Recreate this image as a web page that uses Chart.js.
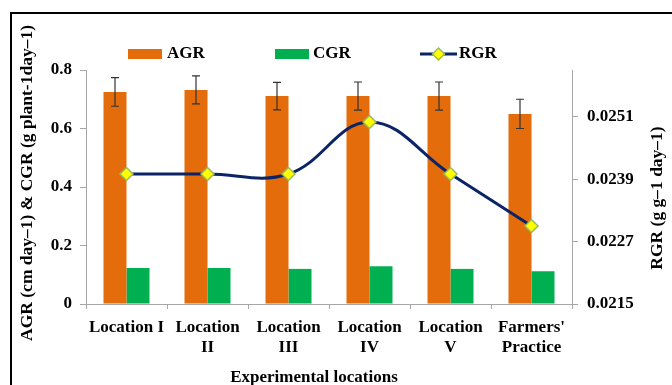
<!DOCTYPE html>
<html>
<head>
<meta charset="utf-8">
<script src="https://cdn.jsdelivr.net/npm/chart.js@4.4.1/dist/chart.umd.min.js"></script>
<style>
  html, body { margin: 0; padding: 0; background: #fff; }
  #wrap { width: 672px; height: 385px; position: relative; }
</style>
</head>
<body>
<div id="wrap"><canvas id="growth-chart"></canvas></div>
<script>
const locations = ["Location I", ["Location", "II"], ["Location", "III"], ["Location", "IV"], ["Location", "V"], ["Farmers'", "Practice"]];
const agr = [0.725, 0.732, 0.711, 0.711, 0.711, 0.650];
const agrErr = [0.049, 0.048, 0.047, 0.048, 0.048, 0.050];
const cgr = [0.123, 0.123, 0.120, 0.129, 0.120, 0.112];
const rgr = [0.0240, 0.0240, 0.0240, 0.0250, 0.0240, 0.0230];
const leftTicks = [0, 0.2, 0.4, 0.6, 0.8];
const rightTicks = [0.0215, 0.0227, 0.0239, 0.0251];

const FONT = "'Liberation Serif', 'Times New Roman', serif";
const ORANGE = "#E46C0A";
const GREEN = "#00B050";
const NAVY = "#0B2466";
const AXIS = "#A6A6A6";

// error bars on the AGR columns
const errorBars = {
    id: "errorBars",
    afterDatasetsDraw(chart) {
        const ctx = chart.ctx;
        const meta = chart.getDatasetMeta(0);
        const y = chart.scales.y;
        ctx.save();
        ctx.strokeStyle = "#333";
        ctx.lineWidth = 1.2;
        meta.data.forEach((bar, i) => {
            const top = y.getPixelForValue(agr[i] + agrErr[i]);
            const bot = y.getPixelForValue(agr[i] - agrErr[i]);
            ctx.beginPath();
            ctx.moveTo(bar.x, top);
            ctx.lineTo(bar.x, bot);
            ctx.moveTo(bar.x - 4, top);
            ctx.lineTo(bar.x + 4, top);
            ctx.moveTo(bar.x - 4, bot);
            ctx.lineTo(bar.x + 4, bot);
            ctx.stroke();
        });
        ctx.restore();
    }
};

// frame, legend and axis titles
const decorations = {
    id: "decorations",
    afterDraw(chart) {
        const ctx = chart.ctx;
        const area = chart.chartArea;
        ctx.save();
        ctx.fillStyle = "#000";
        ctx.fillRect(10, 12, 2, 380);
        ctx.fillRect(10, 12, 670, 2);

        ctx.font = "bold 17px " + FONT;
        ctx.textBaseline = "middle";
        ctx.textAlign = "left";
        // legend
        ctx.fillStyle = ORANGE;
        ctx.fillRect(128, 49, 34, 10);
        ctx.fillStyle = "#000";
        ctx.fillText("AGR", 167, 54);
        ctx.fillStyle = GREEN;
        ctx.fillRect(275, 49, 34, 10);
        ctx.fillStyle = "#000";
        ctx.fillText("CGR", 313, 54);
        ctx.strokeStyle = NAVY;
        ctx.lineWidth = 3;
        ctx.beginPath();
        ctx.moveTo(420, 54);
        ctx.lineTo(457, 54);
        ctx.stroke();
        ctx.beginPath();
        ctx.moveTo(438.5, 48);
        ctx.lineTo(444.5, 54);
        ctx.lineTo(438.5, 60);
        ctx.lineTo(432.5, 54);
        ctx.closePath();
        ctx.fillStyle = "#FFFF00";
        ctx.fill();
        ctx.strokeStyle = "#9BBB59";
        ctx.lineWidth = 1.5;
        ctx.stroke();
        ctx.fillStyle = "#000";
        ctx.fillText("RGR", 459, 54);

        // axis titles
        ctx.textAlign = "center";
        ctx.fillText("Experimental locations", 314, 378);
        ctx.font = "bold 17.5px " + FONT;
        ctx.save();
        ctx.translate(27, (area.top + area.bottom) / 2 - 4);
        ctx.rotate(-Math.PI / 2);
        ctx.fillText("AGR (cm day\u20131) & CGR (g plant-1day\u20131)", 0, 0);
        ctx.restore();
        ctx.save();
        ctx.translate(657, 198);
        ctx.rotate(-Math.PI / 2);
        ctx.fillText("RGR (g g\u20131 day\u20131)", 0, 0);
        ctx.restore();
        ctx.restore();
    }
};

document.addEventListener("DOMContentLoaded", () => {
    const canvas = document.getElementById("growth-chart");
    if (!canvas) {
        console.error("Chart canvas not found!");
        return;
    }
    const tickFont = { family: FONT, size: 17, weight: "bold" };
    new Chart(canvas.getContext("2d"), {
        type: "bar",
        data: {
            labels: locations,
            datasets: [
                { label: "AGR", data: agr, backgroundColor: ORANGE, yAxisID: "y", order: 1 },
                { label: "CGR", data: cgr, backgroundColor: GREEN, yAxisID: "y", order: 1 },
                {
                    type: "line", label: "RGR", data: rgr, yAxisID: "y1", order: 0,
                    borderColor: NAVY, borderWidth: 3, tension: 0.4,
                    pointStyle: "rectRot", pointRadius: 6.5,
                    pointBackgroundColor: "#FFFF00", pointBorderColor: "#9BBB59", pointBorderWidth: 1.5
                }
            ]
        },
        options: {
            responsive: true,
            maintainAspectRatio: false,
            animation: false,
            layout: { padding: { top: 70, left: 0, right: 0, bottom: 0 } },
            datasets: { bar: { categoryPercentage: 0.568, barPercentage: 1 } },
            plugins: { legend: { display: false }, tooltip: { enabled: false } },
            scales: {
                x: {
                    grid: { offset: true, drawOnChartArea: false, tickLength: 5, color: AXIS },
                    border: { color: AXIS },
                    ticks: { font: tickFont, color: "#000", padding: 8, maxRotation: 0, autoSkip: false },
                    afterFit: s => { s.height = 81; }
                },
                y: {
                    position: "left",
                    min: 0,
                    max: 0.8,
                    afterBuildTicks: s => { s.ticks = leftTicks.map(v => ({ value: v })); },
                    grid: { drawOnChartArea: false, tickLength: 6, color: AXIS },
                    border: { color: AXIS },
                    ticks: { font: tickFont, color: "#000", padding: 8, callback: v => String(v) },
                    afterFit: s => { s.width = 86; }
                },
                y1: {
                    position: "right",
                    min: 0.0215,
                    max: 0.026,
                    afterBuildTicks: s => { s.ticks = rightTicks.map(v => ({ value: v })); },
                    grid: { drawOnChartArea: false, tickLength: 6, color: AXIS },
                    border: { color: AXIS },
                    ticks: { font: tickFont, color: "#000", padding: 9, callback: v => v.toFixed(4) },
                    afterFit: s => { s.width = 100; }
                }
            }
        },
        plugins: [errorBars, decorations]
    });
});
</script>
</body>
</html>
